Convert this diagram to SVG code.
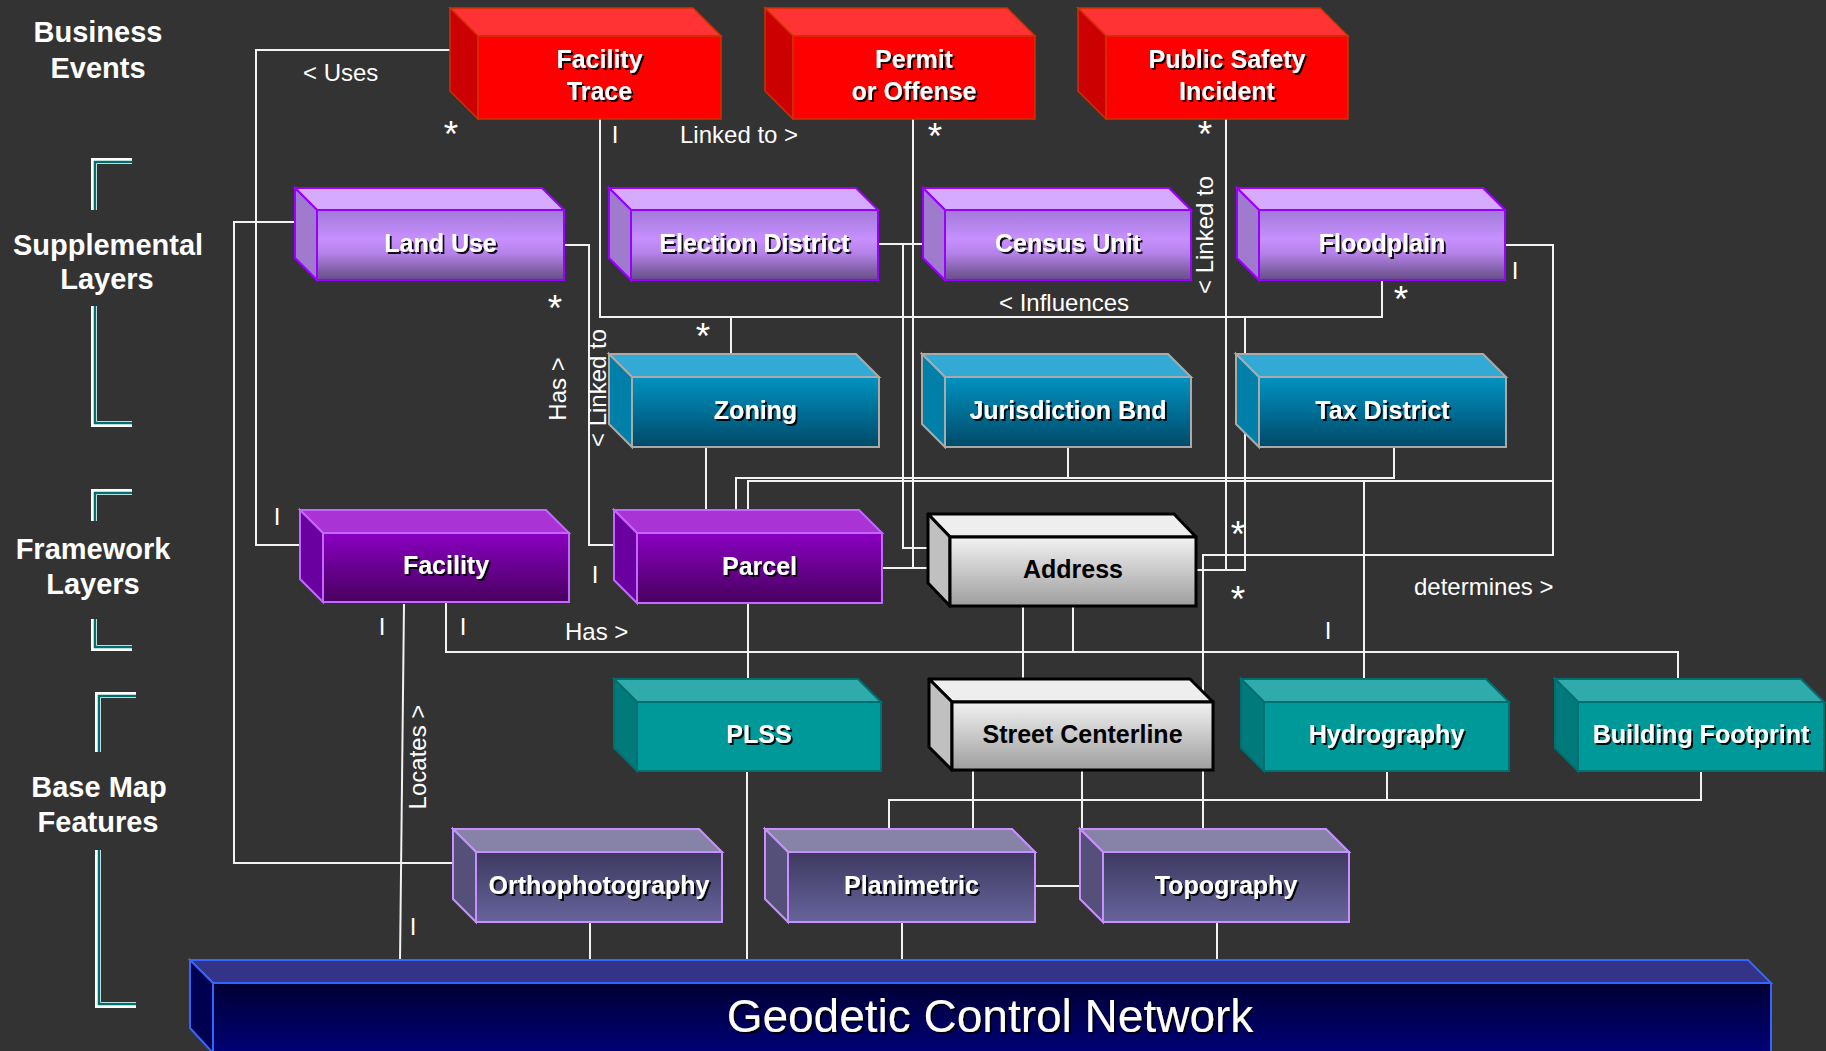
<svg xmlns="http://www.w3.org/2000/svg" width="1826" height="1051" viewBox="0 0 1826 1051">
<style>
.bg{fill:#333333}
.hdr{font-family:"Liberation Sans",Arial,sans-serif;font-weight:bold;font-size:29px;fill:#ffffff;text-anchor:middle}
.nl{font-family:"Liberation Sans",Arial,sans-serif;font-weight:bold;font-size:25px;fill:#ffffff;text-anchor:middle;filter:url(#sh)}
.nd{font-family:"Liberation Sans",Arial,sans-serif;font-weight:bold;font-size:25px;fill:#000000;text-anchor:middle}
.lbl{font-family:"Liberation Sans",Arial,sans-serif;font-size:24px;fill:#ffffff}
.mid{text-anchor:middle}
.ast{font-family:"Liberation Sans",Arial,sans-serif;font-size:37px;fill:#ffffff;text-anchor:middle}
.con path{fill:none;stroke:#f2f2f2;stroke-width:2}
.brk1{fill:none;stroke:#ffffff;stroke-width:6}
.brk2{fill:none;stroke:#006f6f;stroke-width:2.5}
.red .t{fill:#ff3333;stroke:#cc3300;stroke-width:1.5}
.red .l{fill:#cc0000;stroke:#cc3300;stroke-width:1.5}
.red .f{fill:#ff0000;stroke:#cc3300;stroke-width:1.5}
.lil .t{fill:#d5aaff;stroke:#9900ff;stroke-width:2}
.lil .l{fill:#a07acc;stroke:#9900ff;stroke-width:2}
.lil .f{fill:url(#gLil);stroke:#9900ff;stroke-width:2}
.blu .t{fill:#33aad5;stroke:#aaaaaa;stroke-width:2}
.blu .l{fill:#0080a8;stroke:#aaaaaa;stroke-width:2}
.blu .f{fill:url(#gBlu);stroke:#aaaaaa;stroke-width:2}
.pur .t{fill:#aa33d5;stroke:#c466ff;stroke-width:2}
.pur .l{fill:#6a00a0;stroke:#c466ff;stroke-width:2}
.pur .f{fill:url(#gPur);stroke:#c466ff;stroke-width:2}
.gry .t{fill:#eeeeee;stroke:#000000;stroke-width:3;stroke-linejoin:round}
.gry .l{fill:#c0c0c0;stroke:#000000;stroke-width:3;stroke-linejoin:round}
.gry .f{fill:url(#gGry);stroke:#000000;stroke-width:3}
.tea .t{fill:#30abab;stroke:#006f6f;stroke-width:2}
.tea .l{fill:#007a7a;stroke:#006f6f;stroke-width:2}
.tea .f{fill:#009999;stroke:#006f6f;stroke-width:2}
.sla .t{fill:#8783a8;stroke:#c890ff;stroke-width:2}
.sla .l{fill:#55507a;stroke:#c890ff;stroke-width:2}
.sla .f{fill:url(#gSla);stroke:#c890ff;stroke-width:2}
.geo .t{fill:#333388;stroke:#3366ff;stroke-width:2}
.geo .l{fill:#000050;stroke:#3366ff;stroke-width:2}
.geo .f{fill:url(#gGeo);stroke:#3366ff;stroke-width:2}
</style>
<defs>
<filter id="sh" x="-10%" y="-30%" width="130%" height="170%">
<feDropShadow dx="2" dy="2" stdDeviation="0.6" flood-color="#000000" flood-opacity="0.9"/>
</filter>
<linearGradient id="gLil" x1="0" y1="0" x2="0" y2="1">
<stop offset="0" stop-color="#a07ad8"/><stop offset="0.42" stop-color="#c890ff"/><stop offset="0.62" stop-color="#b482e8"/><stop offset="1" stop-color="#664d85"/>
</linearGradient>
<linearGradient id="gBlu" x1="0" y1="0" x2="0" y2="1">
<stop offset="0" stop-color="#0092c2"/><stop offset="1" stop-color="#004a68"/>
</linearGradient>
<linearGradient id="gPur" x1="0" y1="0" x2="0" y2="1">
<stop offset="0" stop-color="#8a00c2"/><stop offset="1" stop-color="#48005e"/>
</linearGradient>
<linearGradient id="gGry" x1="0" y1="0" x2="0" y2="1">
<stop offset="0" stop-color="#f2f2f2"/><stop offset="1" stop-color="#9e9e9e"/>
</linearGradient>
<linearGradient id="gSla" x1="0" y1="0" x2="0" y2="1">
<stop offset="0" stop-color="#3d3960"/><stop offset="1" stop-color="#67649c"/>
</linearGradient>
<linearGradient id="gGeo" x1="0" y1="0" x2="0" y2="1">
<stop offset="0" stop-color="#000033"/><stop offset="1" stop-color="#00007a"/>
</linearGradient>
</defs>
<rect class="bg" x="0" y="0" width="1826" height="1051"/>

<g id="layer-labels">
<text class="hdr" x="98" y="42">Business</text>
<text class="hdr" x="98" y="78">Events</text>
<text class="hdr" x="108" y="255">Supplemental</text>
<text class="hdr" x="107" y="289">Layers</text>
<text class="hdr" x="93" y="559">Framework</text>
<text class="hdr" x="93" y="594">Layers</text>
<text class="hdr" x="99" y="797">Base Map</text>
<text class="hdr" x="98" y="832">Features</text>
</g>

<g id="brackets">
<path class="brk1" d="M94,210 V161 H132"/><path class="brk2" d="M95,210 V162 H132"/>
<path class="brk1" d="M94,306 V424 H132"/><path class="brk2" d="M95,306 V423 H132"/>
<path class="brk1" d="M94,521 V492 H132"/><path class="brk2" d="M95,521 V493 H132"/>
<path class="brk1" d="M94,619 V648 H132"/><path class="brk2" d="M95,619 V647 H132"/>
<path class="brk1" d="M98,752 V695 H136"/><path class="brk2" d="M99,752 V696 H136"/>
<path class="brk1" d="M98,850 V1005 H136"/><path class="brk2" d="M99,850 V1004 H136"/>
</g>

<g id="connectors" class="con">
<path d="M451,50 H256 V545 H300"/>
<path d="M296,222 H234 V863 H453"/>
<path d="M564,245 H589 V545 H613"/>
<path d="M600,119 V317 H1382 V280"/>
<path d="M731,317 V356"/>
<path d="M1245,317 V570 H1196"/>
<path d="M913,119 V568"/>
<path d="M882,568 H928"/>
<path d="M878,244 H923"/>
<path d="M903,244 V548 H928"/>
<path d="M1226,119 V570"/>
<path d="M706,447 V512"/>
<path d="M736,512 V478 H1394 V447"/>
<path d="M1068,478 V447"/>
<path d="M748,512 V481 H1553"/>
<path d="M1505,245 H1553 V555 H1203 V692"/>
<path d="M1364,481 V682"/>
<path d="M446,602 V652 H1678 V682"/>
<path d="M1073,606 V652"/>
<path d="M1023,606 V680"/>
<path d="M404,604 L400,962"/>
<path d="M748,603 V681"/>
<path d="M747,771 V962"/>
<path d="M590,922 V962"/>
<path d="M973,770 V831"/>
<path d="M1082,770 V886 H1035"/>
<path d="M1203,770 V831"/>
<path d="M889,831 V800 H1701 V771"/>
<path d="M1387,771 V800"/>
<path d="M902,922 V962"/>
<path d="M1217,922 V962"/>
</g>

<g id="connector-labels">
<text class="lbl" x="303" y="81">&lt; Uses</text>
<text class="lbl" x="680" y="143">Linked to &gt;</text>
<text class="lbl" x="999" y="311">&lt; Influences</text>
<text class="lbl" x="1414" y="595">determines &gt;</text>
<text class="lbl" x="565" y="640">Has &gt;</text>
<text class="lbl mid" transform="translate(566,389) rotate(-90)">Has &gt;</text>
<text class="lbl mid" transform="translate(606,388) rotate(-90)">&lt; Linked to</text>
<text class="lbl mid" transform="translate(1213,235) rotate(-90)">&lt; Linked to</text>
<text class="lbl mid" transform="translate(426,757) rotate(-90)">Locates &gt;</text>
<text class="ast" x="451" y="147">*</text>
<text class="ast" x="935" y="149">*</text>
<text class="ast" x="1205" y="147">*</text>
<text class="ast" x="555" y="321">*</text>
<text class="ast" x="703" y="349">*</text>
<text class="ast" x="1401" y="312">*</text>
<text class="ast" x="1238" y="547">*</text>
<text class="ast" x="1238" y="612">*</text>
<text class="lbl mid" x="615" y="143">I</text>
<text class="lbl mid" x="277" y="525">I</text>
<text class="lbl mid" x="595" y="583">I</text>
<text class="lbl mid" x="382" y="635">I</text>
<text class="lbl mid" x="463" y="635">I</text>
<text class="lbl mid" x="1515" y="279">I</text>
<text class="lbl mid" x="1328" y="639">I</text>
<text class="lbl mid" x="413" y="935">I</text>
</g>

<g id="facility-trace" class="red">
<polygon class="t" points="450,8 693,8 721,36 478,36"/>
<polygon class="l" points="450,8 478,36 478,119 450,91"/>
<rect class="f" x="478" y="36" width="243" height="83"/>
<text class="nl" x="599.5" y="68">Facility</text>
<text class="nl" x="599.5" y="100">Trace</text>
</g>
<g id="permit-offense" class="red">
<polygon class="t" points="765,8 1007,8 1035,36 793,36"/>
<polygon class="l" points="765,8 793,36 793,119 765,91"/>
<rect class="f" x="793" y="36" width="242" height="83"/>
<text class="nl" x="914" y="68">Permit</text>
<text class="nl" x="914" y="100">or Offense</text>
</g>
<g id="public-safety-incident" class="red">
<polygon class="t" points="1078,8 1320,8 1348,36 1106,36"/>
<polygon class="l" points="1078,8 1106,36 1106,119 1078,91"/>
<rect class="f" x="1106" y="36" width="242" height="83"/>
<text class="nl" x="1227" y="68">Public Safety</text>
<text class="nl" x="1227" y="100">Incident</text>
</g>

<g id="land-use" class="lil">
<polygon class="t" points="295,188 542,188 564,210 317,210"/>
<polygon class="l" points="295,188 317,210 317,280 295,258"/>
<rect class="f" x="317" y="210" width="247" height="70"/>
<text class="nl" x="440.5" y="252">Land Use</text>
</g>
<g id="election-district" class="lil">
<polygon class="t" points="609,188 856,188 878,210 631,210"/>
<polygon class="l" points="609,188 631,210 631,280 609,258"/>
<rect class="f" x="631" y="210" width="247" height="70"/>
<text class="nl" x="754.5" y="252">Election District</text>
</g>
<g id="census-unit" class="lil">
<polygon class="t" points="923,188 1169,188 1191,210 945,210"/>
<polygon class="l" points="923,188 945,210 945,280 923,258"/>
<rect class="f" x="945" y="210" width="246" height="70"/>
<text class="nl" x="1068" y="252">Census Unit</text>
</g>
<g id="floodplain" class="lil">
<polygon class="t" points="1237,188 1483,188 1505,210 1259,210"/>
<polygon class="l" points="1237,188 1259,210 1259,280 1237,258"/>
<rect class="f" x="1259" y="210" width="246" height="70"/>
<text class="nl" x="1382" y="252">Floodplain</text>
</g>

<g id="zoning" class="blu">
<polygon class="t" points="609,354 856,354 879,377 632,377"/>
<polygon class="l" points="609,354 632,377 632,447 609,424"/>
<rect class="f" x="632" y="377" width="247" height="70"/>
<text class="nl" x="755.5" y="419">Zoning</text>
</g>
<g id="jurisdiction-bnd" class="blu">
<polygon class="t" points="922,354 1168,354 1191,377 945,377"/>
<polygon class="l" points="922,354 945,377 945,447 922,424"/>
<rect class="f" x="945" y="377" width="246" height="70"/>
<text class="nl" x="1068" y="419">Jurisdiction Bnd</text>
</g>
<g id="tax-district" class="blu">
<polygon class="t" points="1236,354 1483,354 1506,377 1259,377"/>
<polygon class="l" points="1236,354 1259,377 1259,447 1236,424"/>
<rect class="f" x="1259" y="377" width="247" height="70"/>
<text class="nl" x="1382.5" y="419">Tax District</text>
</g>

<g id="facility" class="pur">
<polygon class="t" points="300,510 546,510 569,533 323,533"/>
<polygon class="l" points="300,510 323,533 323,602 300,579"/>
<rect class="f" x="323" y="533" width="246" height="69"/>
<text class="nl" x="446" y="574">Facility</text>
</g>
<g id="parcel" class="pur">
<polygon class="t" points="614,510 859,510 882,533 637,533"/>
<polygon class="l" points="614,510 637,533 637,603 614,580"/>
<rect class="f" x="637" y="533" width="245" height="70"/>
<text class="nl" x="759.5" y="575">Parcel</text>
</g>
<g id="address" class="gry">
<polygon class="t" points="928,514 1174,514 1196,537 950,537"/>
<polygon class="l" points="928,514 950,537 950,606 928,583"/>
<rect class="f" x="950" y="537" width="246" height="69"/>
<text class="nd" x="1073" y="578">Address</text>
</g>

<g id="plss" class="tea">
<polygon class="t" points="614,679 858,679 881,702 637,702"/>
<polygon class="l" points="614,679 637,702 637,771 614,748"/>
<rect class="f" x="637" y="702" width="244" height="69"/>
<text class="nl" x="759" y="743">PLSS</text>
</g>
<g id="street-centerline" class="gry">
<polygon class="t" points="929,679 1190,679 1213,702 952,702"/>
<polygon class="l" points="929,679 952,702 952,770 929,747"/>
<rect class="f" x="952" y="702" width="261" height="68"/>
<text class="nd" x="1082.5" y="743">Street Centerline</text>
</g>
<g id="hydrography" class="tea">
<polygon class="t" points="1241,679 1486,679 1509,702 1264,702"/>
<polygon class="l" points="1241,679 1264,702 1264,771 1241,748"/>
<rect class="f" x="1264" y="702" width="245" height="69"/>
<text class="nl" x="1386.5" y="743">Hydrography</text>
</g>
<g id="building-footprint" class="tea">
<polygon class="t" points="1555,679 1801,679 1824,702 1578,702"/>
<polygon class="l" points="1555,679 1578,702 1578,771 1555,748"/>
<rect class="f" x="1578" y="702" width="246" height="69"/>
<text class="nl" x="1701" y="743">Building Footprint</text>
</g>

<g id="orthophotography" class="sla">
<polygon class="t" points="453,829 699,829 722,852 476,852"/>
<polygon class="l" points="453,829 476,852 476,922 453,899"/>
<rect class="f" x="476" y="852" width="246" height="70"/>
<text class="nl" x="599" y="894">Orthophotography</text>
</g>
<g id="planimetric" class="sla">
<polygon class="t" points="765,829 1012,829 1035,852 788,852"/>
<polygon class="l" points="765,829 788,852 788,922 765,899"/>
<rect class="f" x="788" y="852" width="247" height="70"/>
<text class="nl" x="911.5" y="894">Planimetric</text>
</g>
<g id="topography" class="sla">
<polygon class="t" points="1080,829 1326,829 1349,852 1103,852"/>
<polygon class="l" points="1080,829 1103,852 1103,922 1080,899"/>
<rect class="f" x="1103" y="852" width="246" height="70"/>
<text class="nl" x="1226" y="894">Topography</text>
</g>

<g id="geodetic-control-network" class="geo">
<polygon class="t" points="190,960 1748,960 1771,983 213,983"/>
<polygon class="l" points="190,960 213,983 213,1053 190,1028"/>
<rect class="f" x="213" y="983" width="1558" height="72"/>
<text class="nl" x="990" y="1032" style="font-weight:normal;font-size:46px">Geodetic Control Network</text>
</g>
</svg>
